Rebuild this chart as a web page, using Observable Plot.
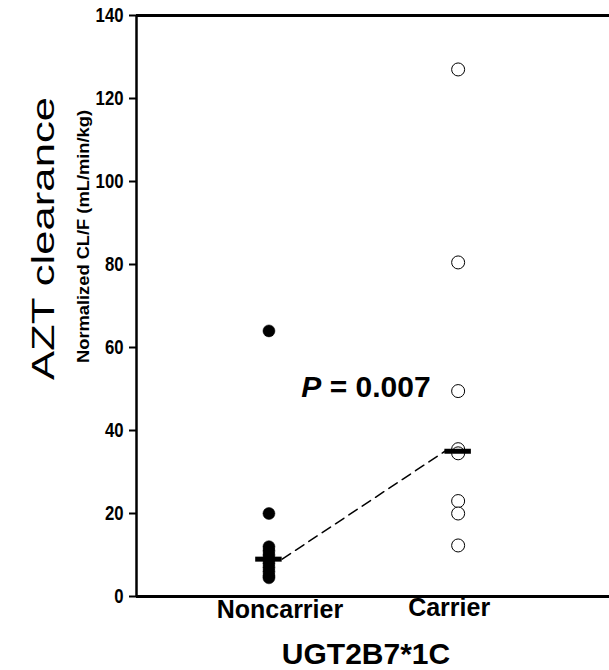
<!DOCTYPE html>
<html>
<head>
<meta charset="utf-8">
<script src="https://cdn.jsdelivr.net/npm/d3@7"></script>
<script src="https://cdn.jsdelivr.net/npm/@observablehq/plot@0.6"></script>
<style>
  html, body { margin: 0; padding: 0; background: #fff; }
  svg { font-family: "Liberation Sans", Arial, sans-serif; }
</style>
</head>
<body>
<div id="chart"></div>
<script>
const groups = ["Noncarrier", "Carrier"];
const groupPos = [1, 2];
const noncarrierValues = [64, 20, 12, 11, 10, 9, 8, 7, 6, 5, 4.5];
const carrierValues = [127, 80.5, 49.5, 35.5, 34.5, 23, 20, 12.3];
const medians = [9, 35];
const yTicks = [0, 20, 40, 60, 80, 100, 120, 140];
const pLabel = "P = 0.007";
const xTitle = "UGT2B7*1C";
const yTitle = "AZT clearance";
const ySubTitle = "Normalized CL/F (mL/min/kg)";

const nonData = noncarrierValues.map(v => ({x: groupPos[0], v}));
const carData = carrierValues.map(v => ({x: groupPos[1], v}));
const medData = groups.map((g, i) => ({g, x: groupPos[i], v: medians[i]}));
const barHalf = 0.07;
const dashData = [
  {x: groupPos[0] + barHalf, v: medians[0]},
  {x: groupPos[1] - barHalf, v: medians[1]}
];

const chart = Plot.plot({
  width: 609,
  height: 670,
  marginLeft: 136,
  marginRight: 0,
  marginTop: 15,
  marginBottom: 74,
  style: {fontFamily: "'Liberation Sans', Arial, sans-serif", background: "white"},
  x: {domain: [0.3, 2.8], axis: null},
  y: {domain: [0, 140], axis: null},
  marks: [
    Plot.axisY({ticks: yTicks, tickSize: 7, tickPadding: 6, fontSize: 20, fontWeight: "bold", label: null, strokeWidth: 2, fill: "black", stroke: "black", className: "yax"}),
    Plot.ruleX([0.3], {stroke: "black", strokeWidth: 2.5}),
    Plot.ruleY([0], {stroke: "black", strokeWidth: 3}),
    Plot.ruleY([140], {stroke: "black", strokeWidth: 3}),
    Plot.line(dashData, {x: "x", y: "v", stroke: "black", strokeWidth: 1.5, strokeDasharray: "10,6"}),
    Plot.dot(nonData, {x: "x", y: "v", r: 6, fill: "black", stroke: "black", strokeWidth: 0.5}),
    Plot.dot(carData, {x: "x", y: "v", r: 6.5, fill: "white", stroke: "black", strokeWidth: 1}),
    Plot.ruleY(medData, {y: "v", x1: d => d.x - barHalf, x2: d => d.x + barHalf, stroke: "black", strokeWidth: 5}),
    Plot.text([medData[0]], {x: "x", y: 0, text: "g", dx: 11, dy: 21, lineAnchor: "bottom", fontSize: 25, fontWeight: "bold", fill: "black"}),
    Plot.text([medData[1]], {x: "x", y: 0, text: "g", dx: -9, dy: 19, lineAnchor: "bottom", fontSize: 25, fontWeight: "bold", fill: "black"}),
    Plot.text([pLabel], {x: 1.513, y: 48, text: d => d, lineAnchor: "bottom", fontSize: 30, fontWeight: "bold", fill: "black", className: "plabel"}),
    Plot.text([xTitle], {frameAnchor: "bottom", text: d => d, dx: -7, dy: 67, lineAnchor: "bottom", fontSize: 30, fontWeight: "bold", fill: "black"}),
    Plot.text([yTitle], {frameAnchor: "left", text: d => d, rotate: -90, textAnchor: "start", dx: -92, dy: 74, fontSize: 31, fill: "black", className: "ytitle"}),
    Plot.text([ySubTitle], {frameAnchor: "left", text: d => d, rotate: -90, textAnchor: "start", dx: -53, dy: 57, fontSize: 17, fontWeight: "bold", fill: "black", className: "ysub"})
  ]
});

document.getElementById("chart").appendChild(chart);

// Post-process: italic P, stretched rotated titles, condensed tick labels
const svg = d3.select(chart);
svg.selectAll(".plabel text").each(function() {
  const t = d3.select(this);
  const s = t.text();
  t.text(null);
  t.append("tspan").attr("font-style", "italic").text(s.slice(0, 1));
  t.append("tspan").text(s.slice(1));
});
svg.selectAll(".ytitle text").attr("textLength", 283).attr("lengthAdjust", "spacingAndGlyphs");
svg.selectAll(".ysub text").attr("textLength", 253).attr("lengthAdjust", "spacingAndGlyphs");
svg.selectAll(".yax text").each(function() {
  const t = d3.select(this);
  const n = t.text().length;
  t.attr("textLength", n * 9.3).attr("lengthAdjust", "spacingAndGlyphs");
});
</script>
</body>
</html>
